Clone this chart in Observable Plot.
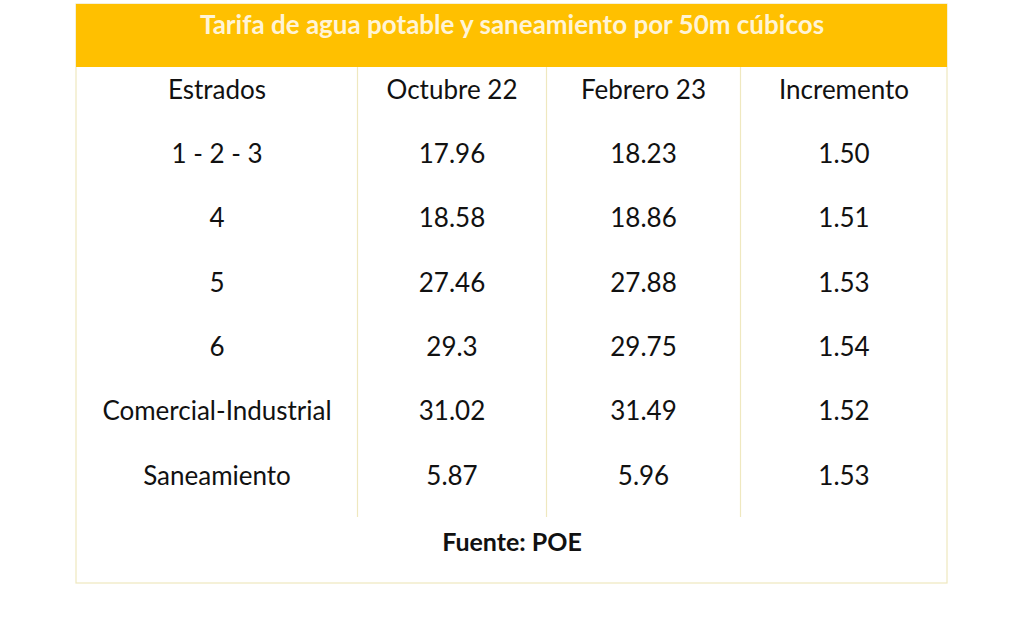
<!DOCTYPE html>
<html><head><meta charset="utf-8">
<script src="https://cdn.jsdelivr.net/npm/d3@7"></script>
<script src="https://cdn.jsdelivr.net/npm/@observablehq/plot@0.6"></script>
<style>html,body{margin:0;padding:0;background:#fff;overflow:hidden}</style>
</head><body><div id="chart"></div>
<script>
// ---- data ----
const title = "Tarifa de agua potable y saneamiento por 50m cúbicos";
const columns = ["Estrados", "Octubre 22", "Febrero 23", "Incremento"];
const estratos = ["1 - 2 - 3", "4", "5", "6", "Comercial-Industrial", "Saneamiento"];
const octubre22 = [17.96, 18.58, 27.46, 29.3, 31.02, 5.87];
const febrero23 = [18.23, 18.86, 27.88, 29.75, 31.49, 5.96];
const incremento = [1.50, 1.51, 1.53, 1.54, 1.52, 1.53];
const source = "Fuente: POE";

// ---- layout ----
const W = 1024, H = 623;
const tLeft = 76, tRight = 947, tTop = 4, headerBottom = 67, tBottom = 583, rulesBottom = 517;
const colEdges = [76, 357, 546, 740, 947];
const firstRowY = 90, rowStep = 64.3;
const colCenter = c => (colEdges[c] + colEdges[c + 1]) / 2;

const cells = [];
columns.forEach((t, c) => cells.push({col: c, row: 0, text: t}));
estratos.forEach((e, i) => {
  cells.push({col: 0, row: i + 1, text: e});
  cells.push({col: 1, row: i + 1, text: String(octubre22[i])});
  cells.push({col: 2, row: i + 1, text: String(febrero23[i])});
  cells.push({col: 3, row: i + 1, text: incremento[i].toFixed(2)});
});

const chart = Plot.plot({
  width: W, height: H,
  margin: 0,
  x: {domain: [0, W], range: [0, W], axis: null},
  y: {domain: [0, H], range: [0, H], axis: null},
  style: {fontFamily: "Lato, 'Open Sans', sans-serif", background: "#fff"},
  marks: [
    Plot.rect([0], {x1: () => tLeft, x2: () => tRight, y1: () => tTop, y2: () => tBottom, fill: "#fff", stroke: "#EFE8BF", strokeWidth: 1.2}),
    Plot.rect([0], {x1: () => tLeft, x2: () => tRight, y1: () => tTop, y2: () => headerBottom, fill: "#FFC000"}),
    Plot.ruleX(colEdges.slice(1, -1), {x: d => d, y1: () => headerBottom, y2: () => rulesBottom, stroke: "#EFE8BF", strokeWidth: 1.2}),
    Plot.text([title], {x: () => (tLeft + tRight) / 2, y: () => 25, text: d => d, fill: "#FFF4D6", fontWeight: "bold", fontSize: 26, textAnchor: "middle", lineAnchor: "middle"}),
    Plot.text(cells, {x: d => colCenter(d.col), y: d => firstRowY + d.row * rowStep, text: "text", fill: "#111", fontSize: 26, lineAnchor: "middle"}),
    Plot.text([source], {x: () => (tLeft + tRight) / 2, y: () => 542, text: d => d, fill: "#111", fontWeight: "bold", fontSize: 25, lineAnchor: "middle"})
  ]
});
document.getElementById("chart").appendChild(chart);
</script>
</body></html>
